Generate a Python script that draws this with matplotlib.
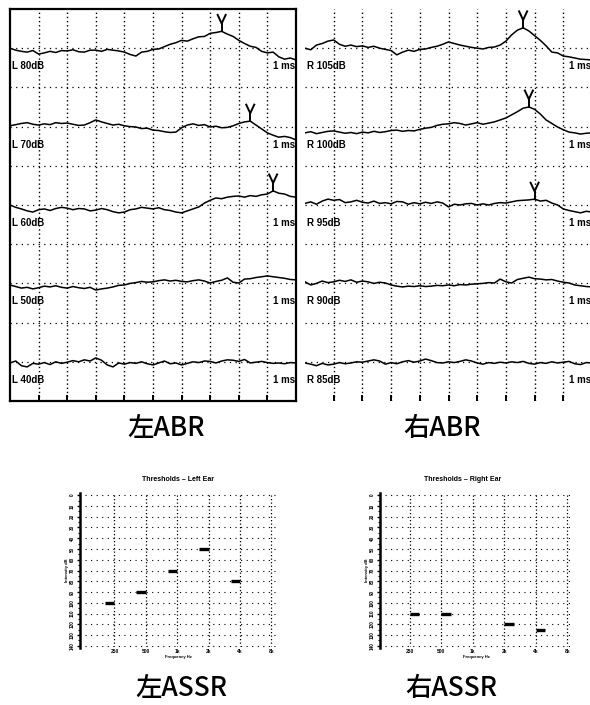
import numpy as np
import matplotlib
matplotlib.use("Agg")
import matplotlib.pyplot as plt

W, H = 590, 705

# sweep sample times in ms (0.2 ms steps, 10 ms window)
t_ms = np.linspace(0, 10, 51)

# ABR waveforms, amplitude in grid divisions relative to each trace's baseline
left_labels = ["L 80dB", "L 70dB", "L 60dB", "L 50dB", "L 40dB"]
left_traces = [
    [0.0, -0.05, -0.08, -0.1, -0.06, -0.15, -0.12, -0.08, -0.11, -0.06,
     -0.07, -0.04, -0.09, -0.1, -0.05, -0.05, -0.08, -0.03, -0.05, -0.07,
     -0.1, -0.16, -0.2, -0.1, -0.08, -0.03, -0.02, 0.04, 0.1, 0.14,
     0.2, 0.18, 0.24, 0.29, 0.3, 0.38, 0.4, 0.43, 0.36, 0.3,
     0.2, 0.12, 0.05, 0.02, -0.08, -0.12, -0.1, -0.22, -0.28, -0.25,
     -0.3],
    [0.02, 0.05, 0.08, 0.1, 0.06, 0.04, 0.07, 0.05, 0.1, 0.08,
     0.09, 0.06, 0.03, 0.04, 0.1, 0.17, 0.12, 0.08, 0.04, 0.06,
     0.02, 0.0, -0.01, -0.05, -0.04, -0.09, -0.1, -0.13, -0.15, -0.14,
     -0.03, 0.04, 0.07, 0.03, 0.05, -0.01, 0.01, -0.03, -0.02, 0.02,
     0.08, 0.12, 0.14, 0.04, -0.06, -0.16, -0.22, -0.27, -0.25, -0.28,
     -0.34],
    [0.0, -0.06, -0.1, -0.15, -0.18, -0.12, -0.1, -0.14, -0.09, -0.06,
     -0.08, -0.12, -0.09, -0.1, -0.15, -0.13, -0.09, -0.12, -0.17, -0.2,
     -0.18, -0.12, -0.1, -0.06, -0.08, -0.1, -0.07, -0.12, -0.14, -0.18,
     -0.2, -0.15, -0.1, -0.05, 0.05, 0.12, 0.18, 0.16, 0.2, 0.22,
     0.23, 0.2, 0.24, 0.22, 0.26, 0.28, 0.36, 0.3, 0.28, 0.22,
     0.2],
    [-0.04, -0.08, -0.12, -0.1, -0.14, -0.11, -0.07, -0.09, -0.06, -0.1,
     -0.12, -0.08, -0.11, -0.13, -0.1, -0.17, -0.14, -0.12, -0.09, -0.05,
     -0.04, 0.0, 0.02, 0.05, 0.03, 0.04, 0.07, 0.09, 0.06, 0.08,
     0.05, 0.04, 0.07, 0.09, 0.06, 0.01, 0.05, 0.08, 0.14, 0.03,
     0.01, 0.11, 0.12, 0.15, 0.17, 0.19, 0.17, 0.15, 0.13, 0.1,
     0.09],
    [-0.03, 0.02, -0.1, -0.13, -0.04, -0.06, -0.02, -0.07, 0.0, -0.04,
     -0.01, 0.03, 0.0, 0.05, 0.02, 0.1, 0.04, -0.08, -0.13, -0.03,
     -0.06, -0.02, -0.04, 0.0, -0.05, -0.08, -0.03, 0.02, -0.05, -0.03,
     -0.08, -0.04, 0.0, -0.02, 0.02, 0.01, -0.03, 0.02, 0.05, 0.04,
     0.01, 0.06, -0.03, -0.01, 0.01, -0.02, -0.04, -0.03, -0.05, -0.02,
     -0.03],
]
left_peaks = [7.4, 8.4, 9.2, None, None]

right_labels = ["R 105dB", "R 100dB", "R 95dB", "R 90dB", "R 85dB"]
right_traces = [
    [0.0, -0.04, 0.08, 0.12, 0.18, 0.21, 0.1, 0.05, 0.08, 0.04,
     0.06, 0.02, 0.05, 0.0, -0.03, -0.06, -0.17, -0.1, -0.05, -0.08,
     -0.03, -0.02, 0.02, 0.05, 0.1, 0.16, 0.12, 0.08, 0.05, 0.02,
     0.0, -0.02, 0.02, 0.03, 0.08, 0.18, 0.34, 0.46, 0.52, 0.44,
     0.32, 0.2, 0.06, -0.1, -0.12, -0.2, -0.22, -0.25, -0.28, -0.29,
     -0.3],
    [-0.16, -0.13, -0.18, -0.15, -0.12, -0.11, -0.14, -0.17, -0.15, -0.18,
     -0.14, -0.16, -0.12, -0.15, -0.13, -0.1, -0.09, -0.12, -0.1, -0.11,
     -0.07, -0.04, -0.02, 0.03, 0.06, 0.07, 0.1, 0.08, 0.04, 0.07,
     0.1, 0.06, 0.09, 0.12, 0.17, 0.22, 0.3, 0.38, 0.47, 0.5,
     0.44, 0.32, 0.17, 0.08, -0.01, -0.08, -0.14, -0.16, -0.19, -0.17,
     -0.16],
    [0.04, 0.08, 0.02, 0.1, 0.15, 0.12, 0.14, 0.06, 0.08, 0.12,
     0.07, 0.05, 0.1, 0.04, 0.06, 0.03, 0.09, 0.08, 0.02, 0.06,
     0.03, 0.07, 0.04, 0.08, 0.05, -0.05, 0.02, 0.0, 0.03, 0.04,
     0.0, 0.03, 0.0, 0.04, 0.06, 0.05, 0.08, 0.11, 0.12, 0.13,
     0.15, 0.1, 0.12, 0.05, 0.0, -0.1, -0.14, -0.17, -0.2, -0.16,
     -0.18],
    [0.04, -0.04, 0.0, 0.06, 0.02, 0.04, 0.08, 0.05, 0.09, 0.03,
     0.06, 0.04, 0.0, 0.03, 0.01, -0.04, -0.07, -0.09, -0.07, -0.08,
     -0.06, -0.08, -0.07, -0.05, -0.06, -0.04, -0.06, -0.03, -0.04, -0.02,
     -0.01, 0.0, 0.02, 0.01, 0.11, 0.04, 0.01, 0.1, 0.13, 0.16,
     0.12, 0.11, 0.09, 0.1, 0.06, 0.03, 0.01, -0.04, -0.06, -0.08,
     -0.09],
    [-0.03, -0.06, -0.1, -0.04, -0.08, -0.06, -0.02, -0.05, -0.03, 0.0,
     -0.01, 0.02, 0.05, 0.02, -0.06, -0.02, -0.05, 0.0, 0.03, -0.01,
     0.02, 0.07, 0.03, -0.02, -0.03, 0.0, -0.02, 0.01, 0.05, 0.02,
     -0.03, -0.06, -0.02, -0.04, -0.01, -0.03, 0.0, -0.02, 0.01, -0.04,
     -0.06, -0.02, -0.04, 0.0, -0.03, -0.01, 0.01, -0.05, -0.07, -0.02,
     -0.03],
]
right_peaks = [7.6, 7.8, 8.0, None, None]

# ASSR threshold charts
assr_freqs = ["250", "500", "1k", "2k", "4k", "8k"]
assr_levels = [0, 10, 20, 30, 40, 50, 60, 70, 80, 90, 100, 110, 120, 130, 140]
left_thr_pos = [1, 2, 3, 4, 5]
left_thr_db = [100, 90, 70, 50, 80]
right_thr_pos = [1, 2, 4, 5]
right_thr_db = [110, 110, 120, 125]

plt.rcParams['font.family'] = ['Liberation Sans', 'DejaVu Sans']
fig = plt.figure(figsize=(W / 100, H / 100), dpi=100)


def px_axes(x0, y0, x1, y1):
    return fig.add_axes([x0 / W, 1 - y1 / H, (x1 - x0) / W, (y1 - y0) / H])


def draw_abr(ax, traces, labels, peaks, framed):
    ax.set_xlim(0, 10)
    ax.set_ylim(0, 10)
    for v in range(1, 10):
        ax.axvline(v, color='k', lw=1.0, ls=(0, (1, 2)))
        ax.axhline(v, color='k', lw=0.9, ls=(0, (1, 3.5)))
    for i, (tr, lab, pk) in enumerate(zip(traces, labels, peaks)):
        base = 9 - 2 * i
        y = base + np.asarray(tr)
        ax.plot(t_ms, y, color='k', lw=1.1)
        ax.text(0.07, base - 0.46, lab, fontsize=7, fontweight='bold',
                ha='left', va='center')
        ax.text(9.97, base - 0.46, "1 ms", fontsize=7, fontweight='bold',
                ha='right', va='center')
        if pk is not None:
            yp = np.interp(pk, t_ms, y)
            ax.plot([pk, pk], [yp, yp + 0.2], color='k', lw=1.4)
            ax.plot([pk - 0.14, pk, pk + 0.14], [yp + 0.42, yp + 0.2, yp + 0.42],
                    color='k', lw=1.4)
    ax.set_xticks(range(1, 10))
    ax.set_yticks([])
    ax.tick_params(axis='x', direction='in', length=4, width=1.4, labelbottom=False)
    for s in ax.spines.values():
        s.set_visible(framed)
        s.set_linewidth(1.6)


ax_l = px_axes(10, 9, 296, 401)
draw_abr(ax_l, left_traces, left_labels, left_peaks, True)
ax_r = px_axes(305, 9, 592, 401)
draw_abr(ax_r, right_traces, right_labels, right_peaks, False)


def draw_assr(ax, title, title_x, thr_pos, thr_db, x_lo, x_hi, direction):
    ax.set_xlim(x_lo, x_hi)
    ax.set_ylim(142, -2)
    for db in assr_levels:
        ax.hlines(db, x_lo + 0.15, x_hi, color='k', lw=0.8, ls=(0, (1, 4)))
    for p in range(1, 7):
        ax.vlines(p, 0, 140, color='k', lw=0.9, ls=(0, (1, 1.8)))
    for p, db in zip(thr_pos, thr_db):
        ax.plot([p - 0.3 * direction, p], [db, db], color='k', lw=2.4,
                solid_capstyle='butt')
    ax.set_xticks(range(1, 7))
    ax.set_xticklabels(assr_freqs, fontsize=3.5, fontweight='bold')
    ax.set_yticks(assr_levels)
    ax.set_yticklabels([str(v) for v in assr_levels], fontsize=3.3,
                       fontweight='bold', rotation=90, va='center')
    ax.set_yticks(np.arange(5, 140, 10), minor=True)
    ax.tick_params(axis='x', length=0, pad=1)
    ax.tick_params(axis='y', which='major', length=2.5, width=1.0, pad=1)
    ax.tick_params(axis='y', which='minor', length=1.8, width=0.8)
    ax.set_xlabel("Frequency Hz", fontsize=3, fontweight='bold', labelpad=0.5)
    ax.set_ylabel("Intensity dB", fontsize=3, fontweight='bold', labelpad=1)
    for name, s in ax.spines.items():
        s.set_visible(name == 'left')
    ax.spines['left'].set_linewidth(1.8)
    ax.text(title_x, 1.09, title, transform=ax.transAxes, fontsize=5,
            fontweight='bold', ha='center', va='center')


ax_al = px_axes(80, 493, 276, 648)
draw_assr(ax_al, "Thresholds \u2013 Left Ear", 0.5, left_thr_pos, left_thr_db,
          -0.1, 6.15, 1)
ax_ar = px_axes(380, 493, 572, 648)
draw_assr(ax_ar, "Thresholds \u2013 Right Ear", 0.43, right_thr_pos, right_thr_db,
          0.05, 6.15, -1)

cjk = ['Noto Sans CJK JP', 'DejaVu Sans']
big = dict(fontsize=19, family=cjk, fontweight='medium', ha='center', va='center')
fig.text(166 / W, 1 - 429 / H, "左ABR", **big)
fig.text(442 / W, 1 - 429 / H, "右ABR", **big)
fig.text(181 / W, 1 - 688 / H, "左ASSR", **big)
fig.text(451 / W, 1 - 688 / H, "右ASSR", **big)

fig.savefig("out.png", dpi=100)
